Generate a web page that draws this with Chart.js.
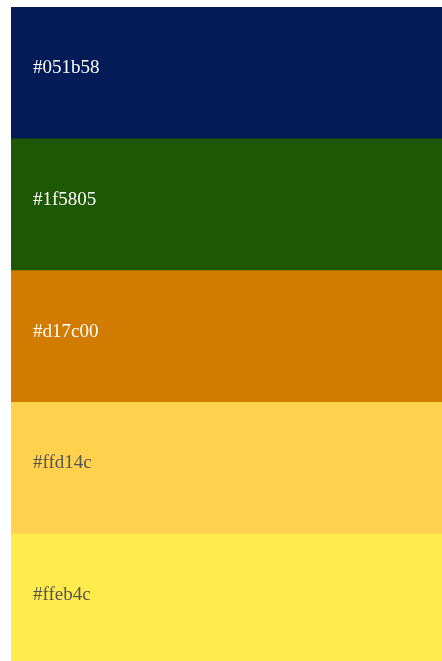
<!DOCTYPE html>
<html>
<head>
<meta charset="utf-8">
<script src="https://cdn.jsdelivr.net/npm/chart.js@4/dist/chart.umd.min.js"></script>
<style>
    html, body { margin: 0; padding: 0; background: #fff; overflow: hidden; }
    #wrap { position: absolute; left: 11px; top: 7px; width: 431px; height: 659px; }
</style>
</head>
<body>
<div id="wrap"><canvas id="palette"></canvas></div>
<script>
const swatchNames = ['#051b58', '#1f5805', '#d17c00', '#ffd14c', '#ffeb4c'];
const swatchColors = ['#051b58', '#1f5805', '#d17c00', '#ffd14c', '#ffeb4c'];
const swatchValues = [1, 1, 1, 1, 1];
const labelColors = ['#ffffff', '#ffffff', '#ffffff', '#555555', '#555555'];

const swatchLabels = {
    id: 'swatchLabels',
    afterDatasetsDraw: (chart) => {
        const { ctx, chartArea } = chart;
        const yScale = chart.scales.y;
        ctx.save();
        ctx.font = '19px "Liberation Serif", "Times New Roman", serif';
        ctx.textAlign = 'left';
        ctx.textBaseline = 'alphabetic';
        swatchNames.forEach((name, i) => {
            const y = yScale.getPixelForValue(i);
            ctx.fillStyle = labelColors[i];
            ctx.fillText(name, chartArea.left + 22, y);
        });
        ctx.restore();
    },
};

const ctx = document.getElementById('palette').getContext('2d');
new Chart(ctx, {
    type: 'bar',
    data: {
        labels: swatchNames,
        datasets: [
            {
                data: swatchValues,
                backgroundColor: swatchColors,
                borderWidth: 0,
                categoryPercentage: 1,
                barPercentage: 1,
            },
        ],
    },
    options: {
        indexAxis: 'y',
        responsive: true,
        maintainAspectRatio: false,
        devicePixelRatio: 1,
        animation: false,
        layout: { padding: 0 },
        plugins: { legend: { display: false }, tooltip: { enabled: false } },
        scales: {
            x: { display: false, min: 0, max: 1 },
            y: { display: false },
        },
    },
    plugins: [swatchLabels],
});
</script>
</body>
</html>
